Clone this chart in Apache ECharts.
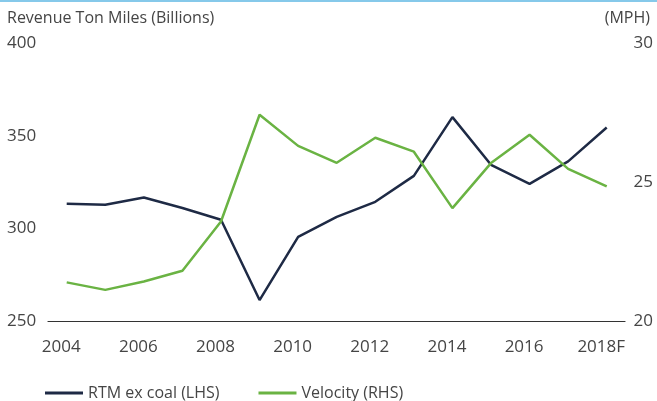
<!DOCTYPE html>
<html>
<head>
<meta charset="UTF-8">
<title>Revenue Ton Miles vs Velocity</title>
<script src="https://cdn.jsdelivr.net/npm/echarts@6/dist/echarts.min.js"></script>
<style>
  html, body { margin: 0; padding: 0; background: #fff; }
  #chart { width: 657px; height: 401px; }
</style>
</head>
<body>
<div id="chart"></div>
<script>
// years on the x axis (2018 is a forecast)
const years = [2004, 2005, 2006, 2007, 2008, 2009, 2010, 2011, 2012, 2013, 2014, 2015, 2016, 2017, 2018];
const xTickYears = [2004, 2006, 2008, 2010, 2012, 2014, 2016, 2018];

// revenue ton miles ex coal, billions (left axis)
const rtmExCoal = [313.2, 312.7, 316.6, 311.0, 304.6, 261.3, 295.4, 306.2, 314.3, 328.3, 360.0, 334.3, 324.0, 336.1, 354.4];
// train velocity, mph (right axis)
const velocity = [21.39, 21.12, 21.42, 21.81, 23.58, 27.42, 26.30, 25.69, 26.59, 26.09, 24.06, 25.68, 26.70, 25.47, 24.84];

const textColor = '#454545';
const font = '"Open Sans", sans-serif';

const chart = echarts.init(document.getElementById('chart'));

chart.setOption({
  animation: false,
  textStyle: { fontFamily: font, color: textColor },
  graphic: [{
    type: 'rect', left: 0, top: 0,
    shape: { width: 657, height: 2 },
    style: { fill: '#86c9ea' }
  }],
  title: [
    { text: 'Revenue Ton Miles (Billions)', left: 2, top: 5,
      textStyle: { fontFamily: font, fontSize: 16, fontWeight: 'normal', color: textColor } },
    { text: '(MPH)', right: 2, top: 5,
      textStyle: { fontFamily: font, fontSize: 16, fontWeight: 'normal', color: textColor } }
  ],
  grid: { left: 48, right: 32, top: 43, bottom: 80 },
  legend: {
    left: 40, top: 380,
    icon: 'rect', itemWidth: 38, itemHeight: 3, itemGap: 39,
    textStyle: { fontFamily: font, fontSize: 16, color: textColor },
    data: ['RTM ex coal (LHS)', 'Velocity (RHS)']
  },
  xAxis: {
    type: 'value',
    min: 2003.515, max: 2018.474,
    splitLine: { show: false },
    axisTick: { show: false },
    axisLine: { lineStyle: { color: '#333', width: 1.2 } },
    axisLabel: {
      customValues: xTickYears,
      fontSize: 17, color: textColor, margin: 18,
      padding: [0, 11, 0, 0],
      formatter: v => v === 2018 ? '2018F' : String(v)
    }
  },
  yAxis: [{
    type: 'value', min: 250, max: 400, interval: 50,
    splitLine: { show: false }, axisLine: { show: false }, axisTick: { show: false },
    axisLabel: { align: 'left', margin: 41, fontSize: 17, color: textColor }
  }, {
    type: 'value', min: 20, max: 30, interval: 5, position: 'right',
    splitLine: { show: false }, axisLine: { show: false }, axisTick: { show: false },
    axisLabel: { align: 'right', margin: 28, fontSize: 17, color: textColor }
  }],
  series: [{
    name: 'RTM ex coal (LHS)', type: 'line', yAxisIndex: 0,
    symbol: 'none', color: '#1e2a45',
    lineStyle: { width: 2.5, color: '#1e2a45' },
    data: years.map((y, i) => [y, rtmExCoal[i]])
  }, {
    name: 'Velocity (RHS)', type: 'line', yAxisIndex: 1,
    symbol: 'none', color: '#6ab343',
    lineStyle: { width: 2.5, color: '#6ab343' },
    data: years.map((y, i) => [y, velocity[i]])
  }]
});
</script>
</body>
</html>
